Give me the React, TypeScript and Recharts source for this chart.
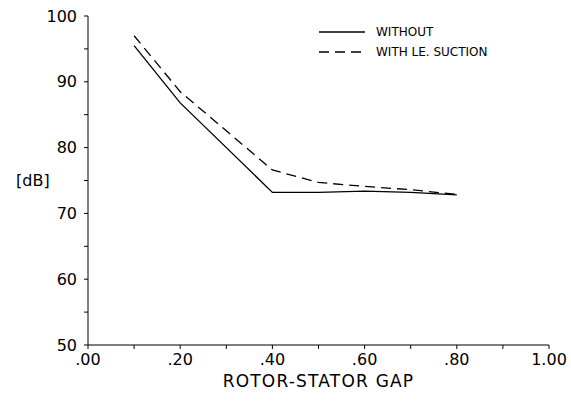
import { LineChart, Line, XAxis, YAxis, Legend } from "recharts";

const gap = [0.1, 0.2, 0.4, 0.5, 0.6, 0.7, 0.8];
const withoutDb = [95.5, 86.8, 73.2, 73.2, 73.4, 73.2, 72.8];
const suctionDb = [97.0, 88.5, 76.6, 74.7, 74.1, 73.6, 72.9];

const xTicks = [0, 0.1, 0.2, 0.3, 0.4, 0.5, 0.6, 0.7, 0.8, 0.9, 1.0];
const yTicks = [50, 55, 60, 65, 70, 75, 80, 85, 90, 95, 100];

const seriesNames = ["WITHOUT", "WITH LE. SUCTION"];

const data = gap.map((g, i) => ({ gap: g, without: withoutDb[i], suction: suctionDb[i] }));

const font = "'DejaVu Sans', sans-serif";

const fmtX = (v: number) => {
  const k = Math.round(v * 10);
  if (k % 2 !== 0) return "";
  return v === 1 ? "1.00" : v.toFixed(2).replace(/^0/, "");
};
const fmtY = (v: number) => (v % 10 === 0 ? String(v) : "");

function LegendBox() {
  return (
    <div style={{ fontFamily: font, fontSize: 12, color: "#000", lineHeight: "20px" }}>
      {seriesNames.map((name, i) => (
        <div key={name} style={{ display: "flex", alignItems: "center" }}>
          <svg width={48} height={10} style={{ marginRight: 10 }}>
            <line x1={1} y1={5} x2={47} y2={5} stroke="#000" strokeWidth={1.3} strokeDasharray={i === 1 ? "10 6" : undefined} />
          </svg>
          <span>{name}</span>
        </div>
      ))}
    </div>
  );
}

export default function App() {
  return (
    <div style={{ position: "absolute", left: 0, top: 0, background: "#fff" }}>
      <LineChart width={571} height={404} data={data} margin={{ top: 16, right: 22, left: 0, bottom: 28 }}>
        <XAxis
          dataKey="gap"
          type="number"
          domain={[0, 1]}
          ticks={xTicks}
          interval={0}
          tickFormatter={fmtX}
          stroke="#000"
          tickSize={4}
          tickMargin={5}
          height={31}
          tick={{ fill: "#000", fontFamily: font, fontSize: 16 }}
          label={{ value: "ROTOR-STATOR GAP", position: "insideBottom", offset: -11, fill: "#000", fontFamily: font, fontSize: 17, letterSpacing: 1.2 }}
        />
        <XAxis xAxisId="top" orientation="top" type="number" domain={[0, 1]} ticks={xTicks} tick={false} height={0} stroke="#000" tickSize={3} />
        <YAxis
          type="number"
          domain={[50, 100]}
          ticks={yTicks}
          interval={0}
          tickFormatter={fmtY}
          stroke="#000"
          tickSize={4}
          tickMargin={7}
          width={88}
          tick={{ fill: "#000", fontFamily: font, fontSize: 16 }}
          label={{ value: "[dB]", position: "insideLeft", offset: 16, angle: 0, fill: "#000", fontFamily: font, fontSize: 16 }}
        />
        <YAxis yAxisId="right" orientation="right" type="number" domain={[50, 100]} tick={false} tickLine={false} width={0} stroke="#000" />
        <Legend content={<LegendBox />} layout="vertical" verticalAlign="middle" align="center" wrapperStyle={{ left: 318, top: 22, width: 220 }} />
        <Line dataKey="without" name={seriesNames[0]} stroke="#000" strokeWidth={1.3} dot={false} isAnimationActive={false} />
        <Line dataKey="suction" name={seriesNames[1]} stroke="#000" strokeWidth={1.3} strokeDasharray="10 6" dot={false} isAnimationActive={false} />
      </LineChart>
    </div>
  );
}
